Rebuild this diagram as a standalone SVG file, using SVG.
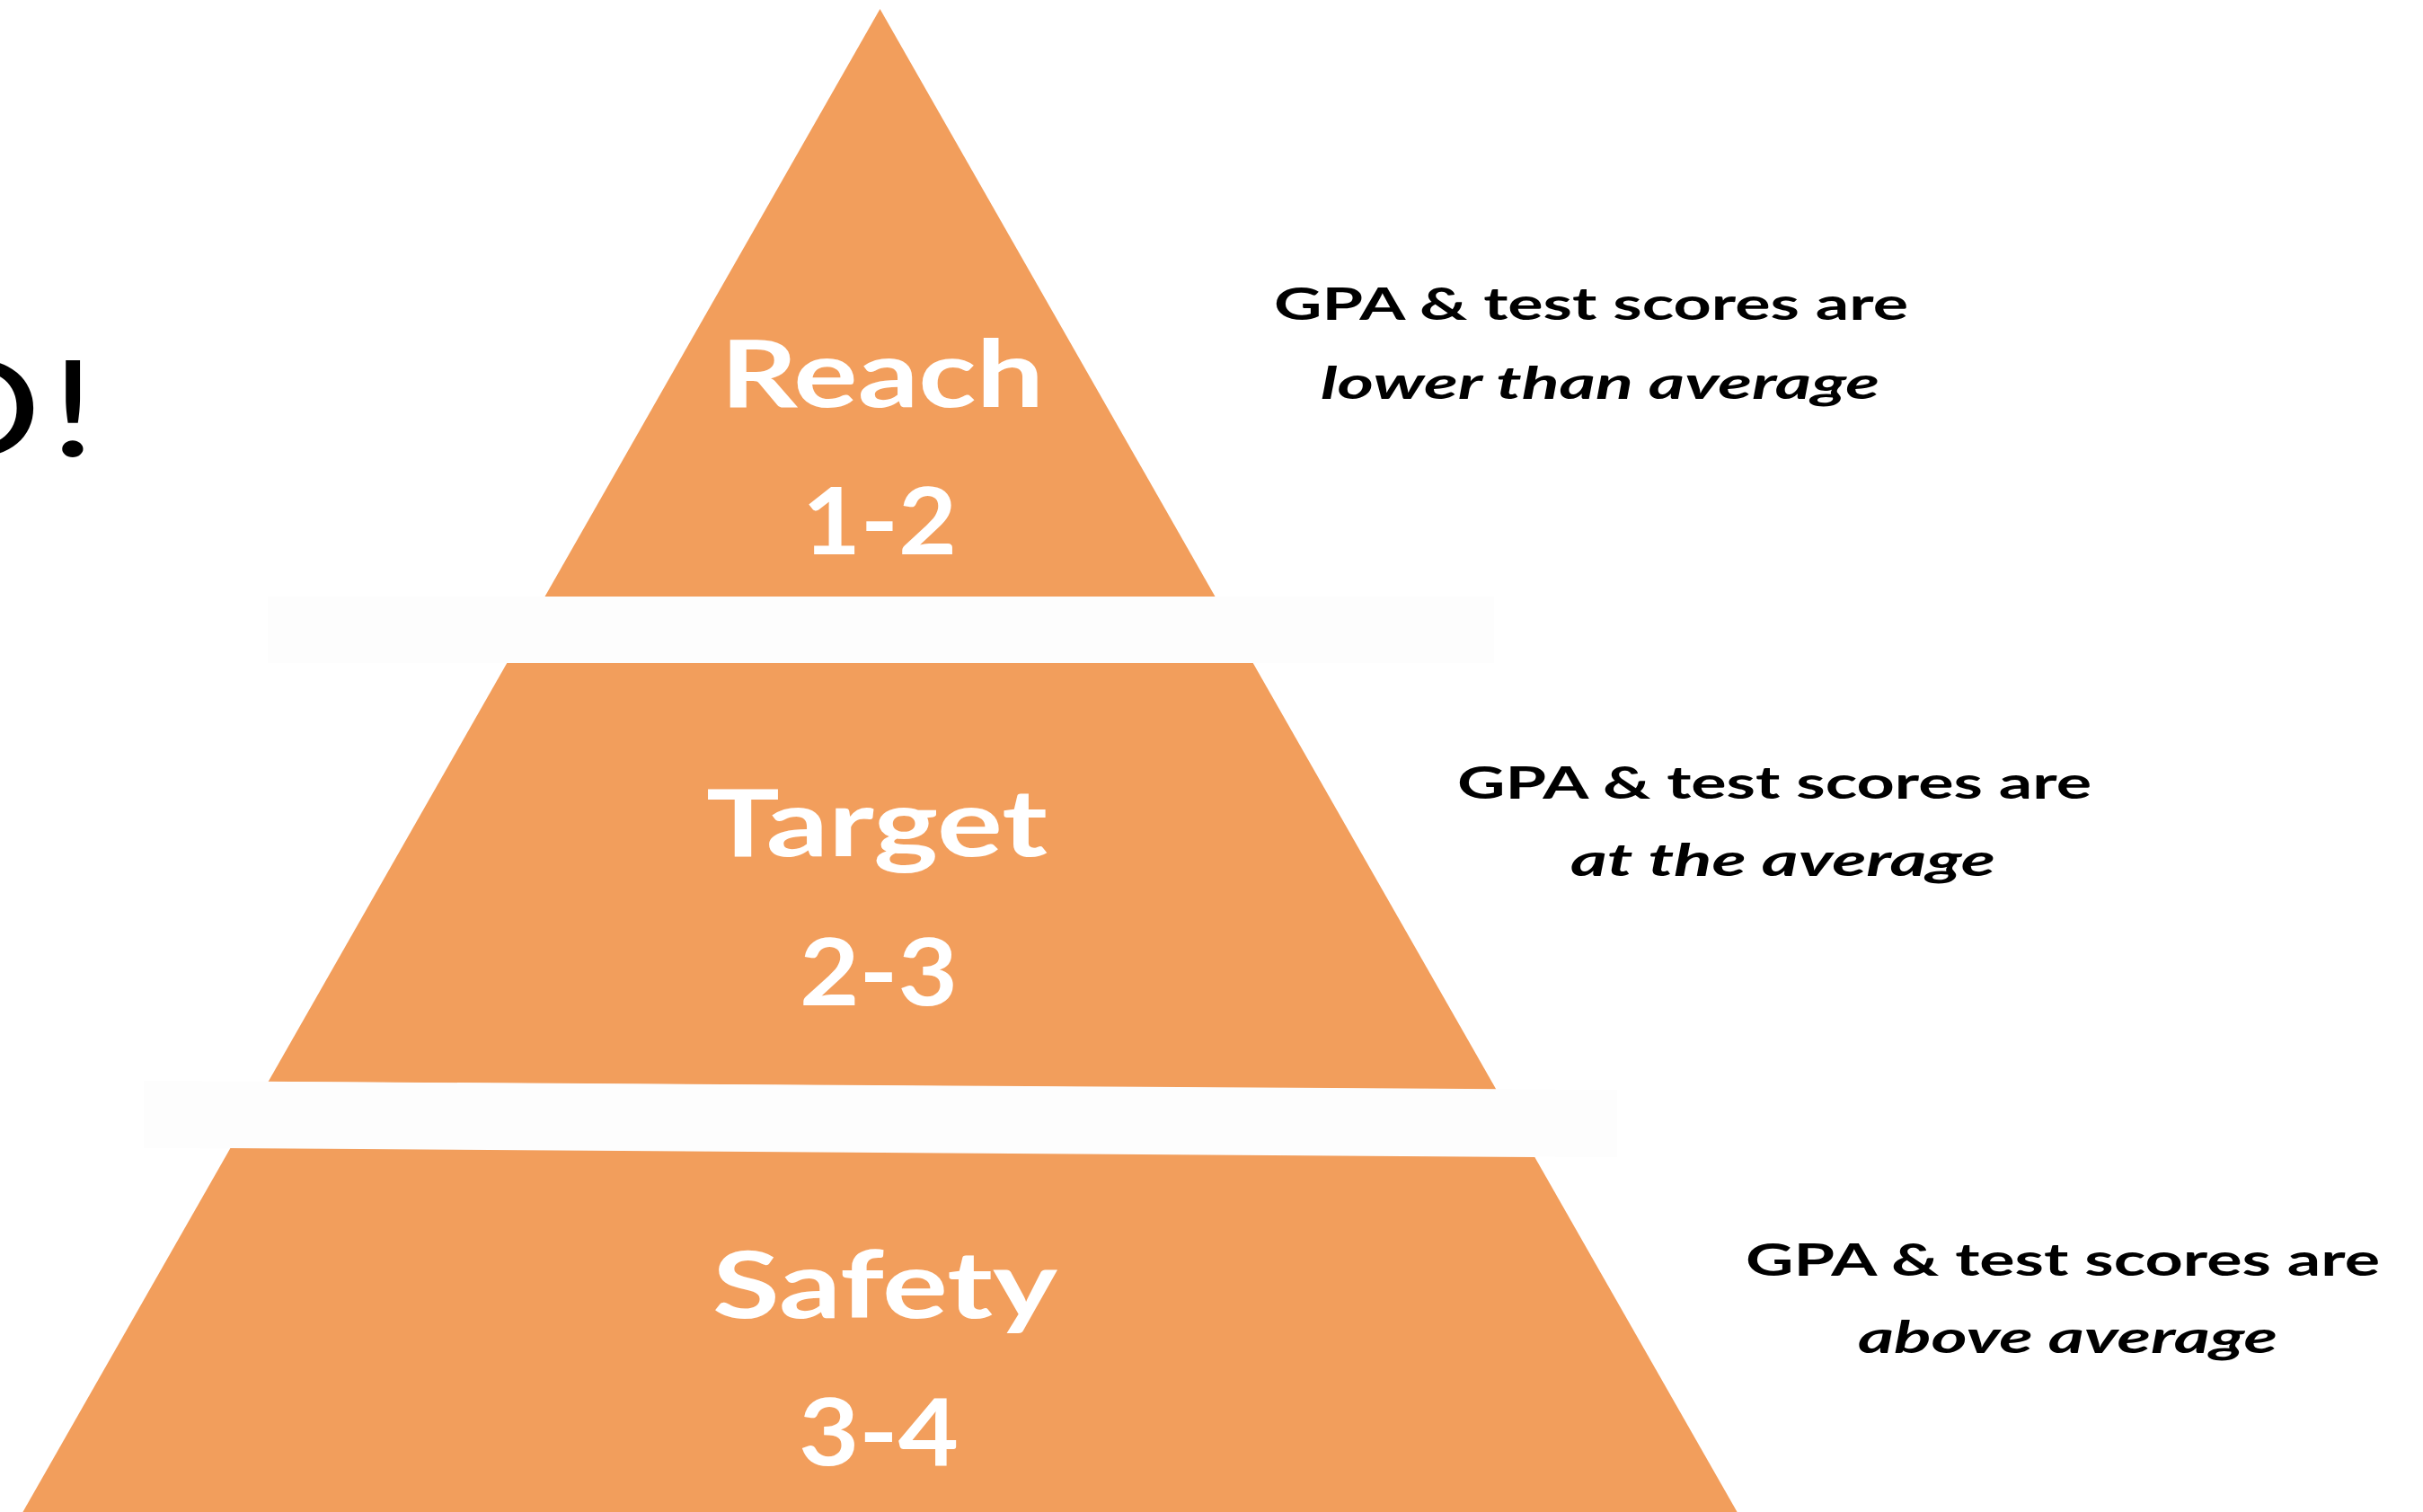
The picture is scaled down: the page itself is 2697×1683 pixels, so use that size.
<svg xmlns="http://www.w3.org/2000/svg" width="2697" height="1683" viewBox="0 0 2697 1683">
<style>
.tier{fill:#F29E5C;}
.band{fill:#FDFDFD;}
.lbl{font-family:Lato,"Open Sans","Liberation Sans",sans-serif;font-weight:700;font-size:104px;fill:#FFFFFF;}
.desc{font-family:Lato,"Open Sans","Liberation Sans",sans-serif;font-weight:700;font-size:49px;fill:#000000;}
.em{font-style:italic;}
.big{font-family:Lato,"Open Sans","Liberation Sans",sans-serif;font-weight:400;font-size:149px;fill:#000000;}
</style>
<rect x="0" y="0" width="2697" height="1683" fill="#FFFFFF"/>
<g id="title-fragment">
<text class="big" transform="translate(116,508) scale(1.25,1)" text-anchor="end" letter-spacing="8">O!</text>
</g>
<g id="tier-reach">
<polygon class="tier" points="979.5,10 1352.5,664 606.5,664"/>
<text class="lbl" x="802" y="453" textLength="360" lengthAdjust="spacingAndGlyphs">Reach</text>
<text class="lbl" x="893" y="617" textLength="172" lengthAdjust="spacingAndGlyphs">1-2</text>
</g>
<g id="band-1">
<rect class="band" x="298" y="664" width="1365" height="74"/>
</g>
<g id="tier-target">
<polygon class="tier" points="564.3,738 1394.7,738 1665.6,1213 298.6,1204"/>
<text class="lbl" x="786" y="953" textLength="380" lengthAdjust="spacingAndGlyphs">Target</text>
<text class="lbl" x="890" y="1119" textLength="176" lengthAdjust="spacingAndGlyphs">2-3</text>
</g>
<g id="band-2">
<polygon class="band" points="160,1203 1800,1213 1800,1288 160,1278"/>
</g>
<g id="tier-safety">
<polygon class="tier" points="256.4,1278 1708.3,1288 1933.6,1683 25.4,1683"/>
<text class="lbl" x="793" y="1467" textLength="384" lengthAdjust="spacingAndGlyphs">Safety</text>
<text class="lbl" x="889" y="1631" textLength="178" lengthAdjust="spacingAndGlyphs">3-4</text>
</g>
<g id="desc-reach">
<text class="desc" x="1418" y="356" textLength="706" lengthAdjust="spacingAndGlyphs">GPA &amp; test scores are</text>
<text class="desc em" x="1470" y="444" textLength="622" lengthAdjust="spacingAndGlyphs">lower than average</text>
</g>
<g id="desc-target">
<text class="desc" x="1622" y="889" textLength="706" lengthAdjust="spacingAndGlyphs">GPA &amp; test scores are</text>
<text class="desc em" x="1748" y="975" textLength="473" lengthAdjust="spacingAndGlyphs">at the average</text>
</g>
<g id="desc-safety">
<text class="desc" x="1943" y="1420" textLength="706" lengthAdjust="spacingAndGlyphs">GPA &amp; test scores are</text>
<text class="desc em" x="2068" y="1506" textLength="467" lengthAdjust="spacingAndGlyphs">above average</text>
</g>
<g id="connectors"></g>
</svg>
